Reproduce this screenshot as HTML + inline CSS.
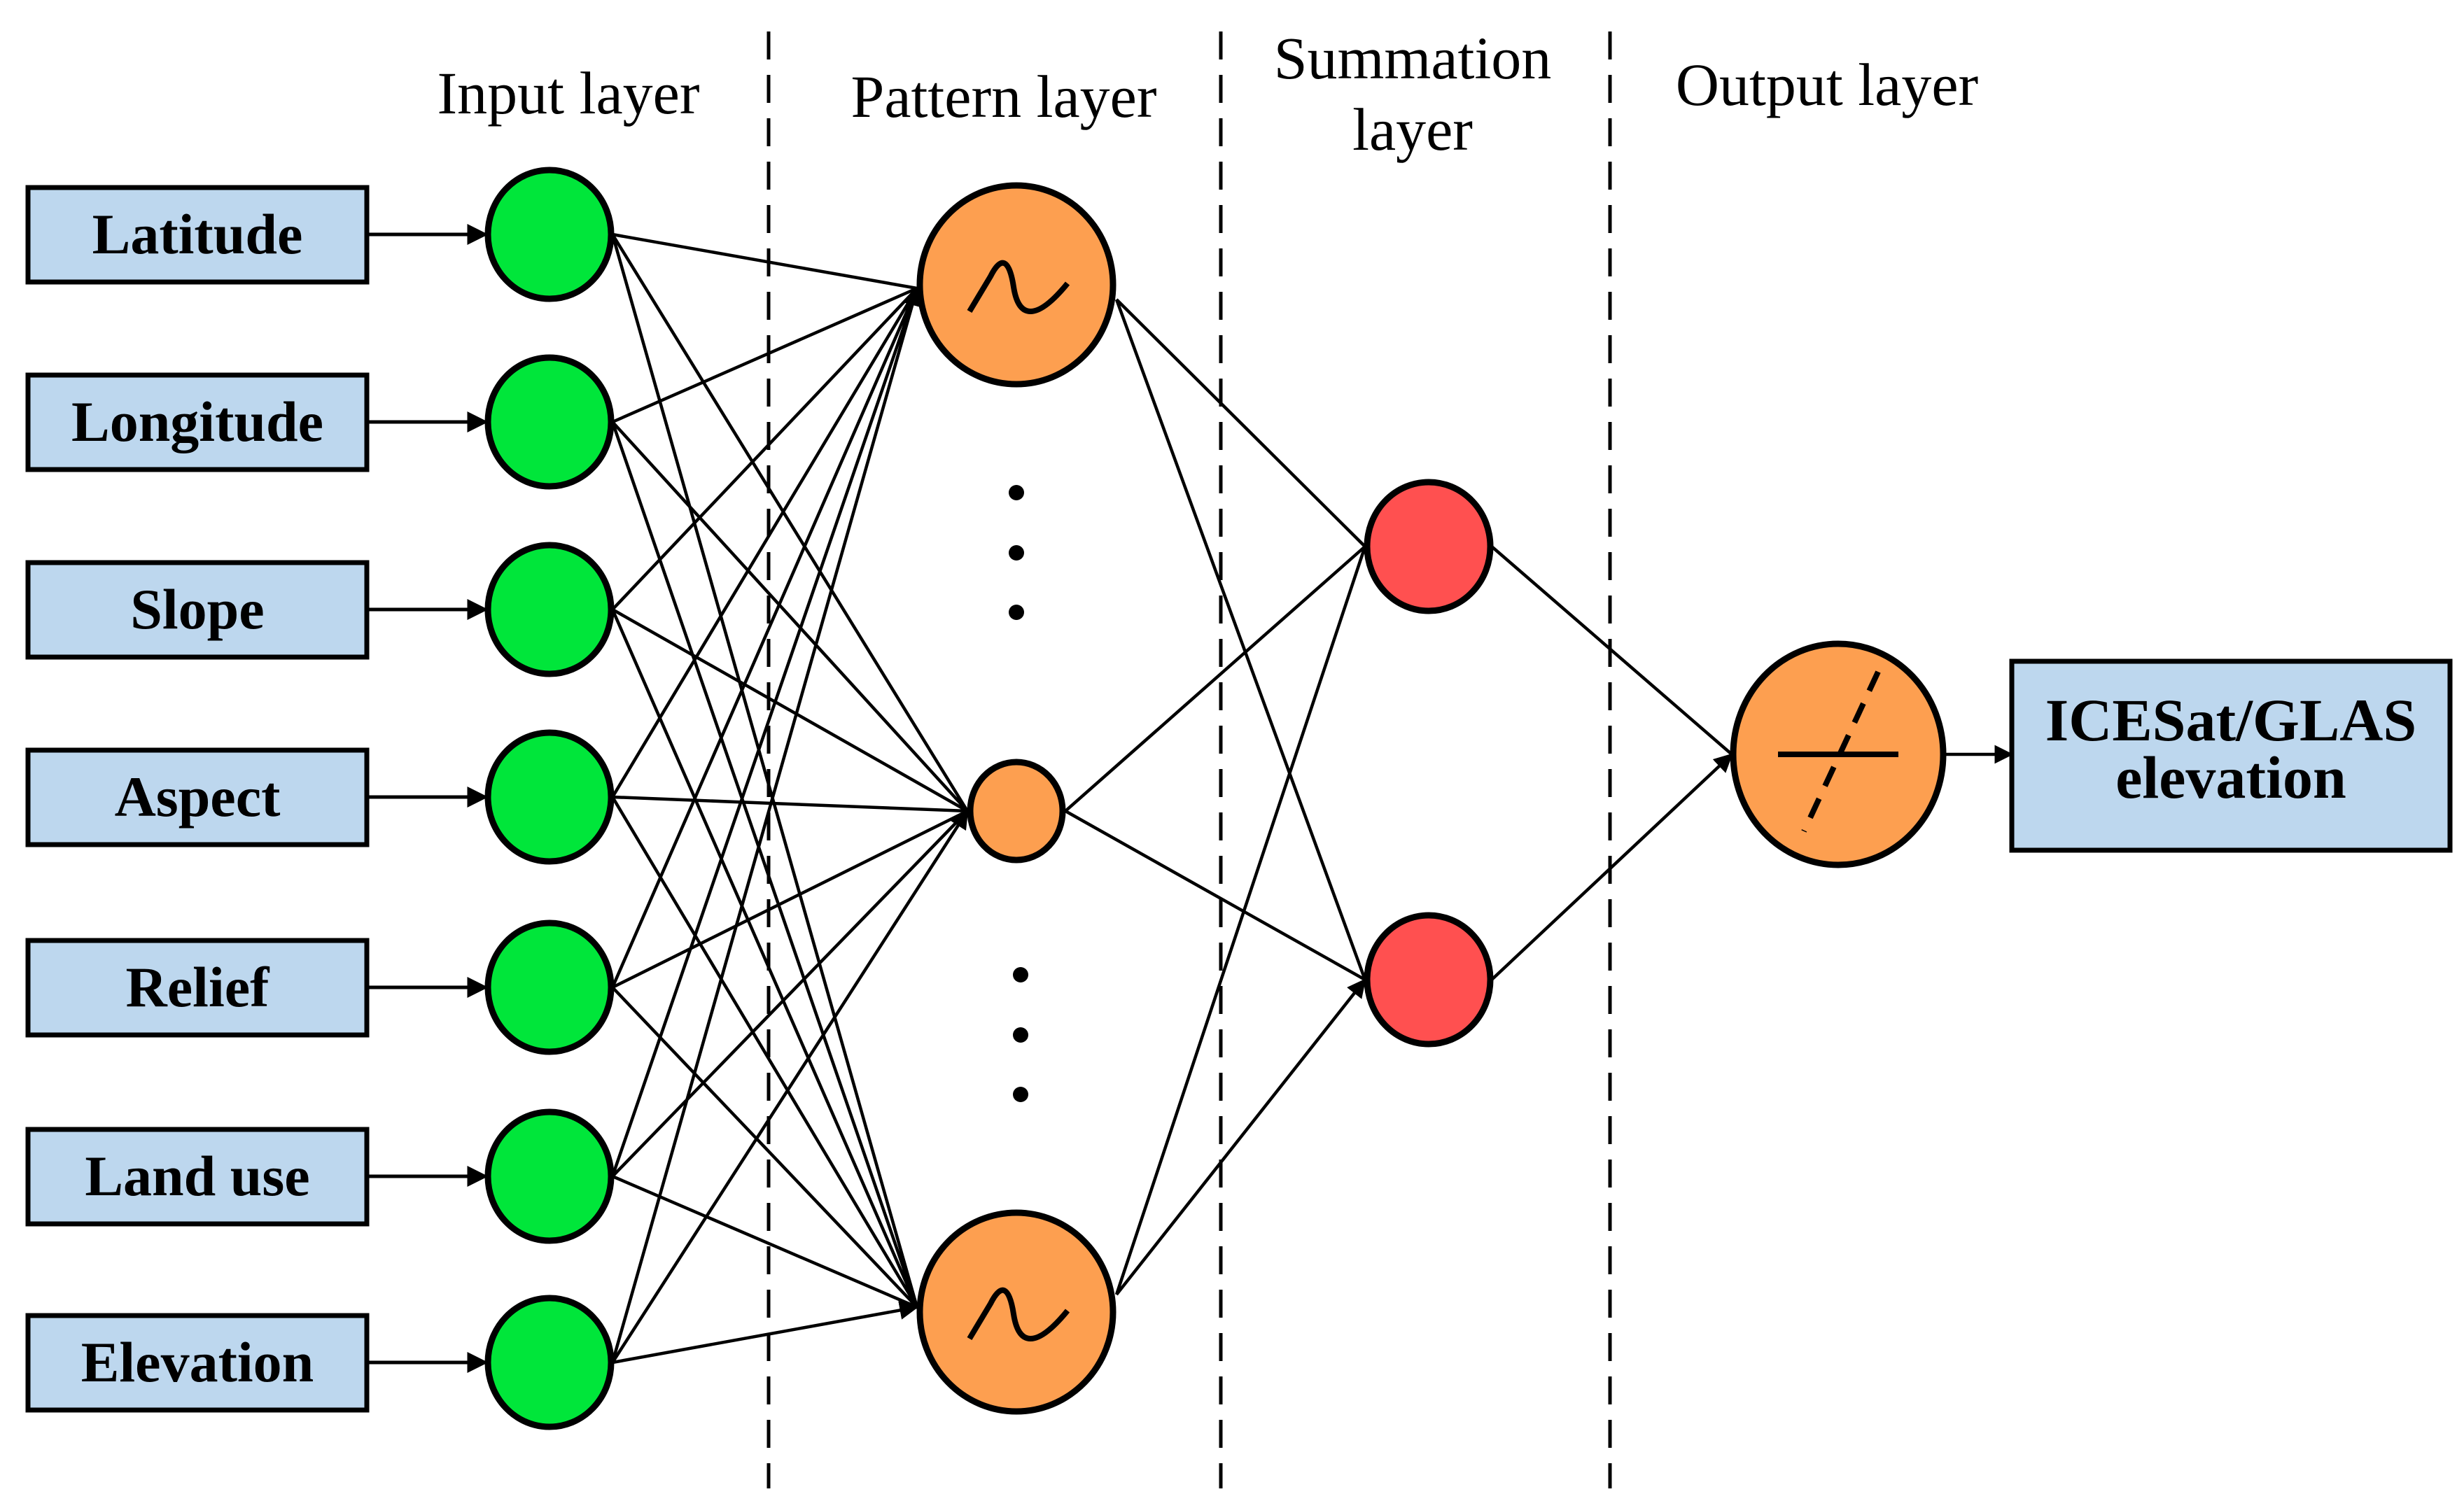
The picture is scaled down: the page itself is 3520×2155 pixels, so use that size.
<!DOCTYPE html>
<html><head><meta charset="utf-8"><style>html,body{margin:0;padding:0;background:#fff}svg{display:block}</style></head>
<body>
<svg width="3520" height="2155" viewBox="0 0 3520 2155" xmlns="http://www.w3.org/2000/svg">
<defs>
<marker id="a" markerWidth="6" markerHeight="6" refX="5.5" refY="3" orient="auto" markerUnits="strokeWidth"><path d="M0,0 L6,3 L0,6 z" fill="#000"/></marker>
</defs>
<g stroke="#000" stroke-width="5" stroke-dasharray="40,22">
<line x1="1098" y1="45" x2="1098" y2="2127"/>
<line x1="1744" y1="45" x2="1744" y2="2127"/>
<line x1="2300" y1="45" x2="2300" y2="2127"/>
</g>
<g font-family="Liberation Serif, serif" font-size="86" text-anchor="middle" fill="#000">
<text x="812" y="162">Input layer</text>
<text x="1434" y="167">Pattern layer</text>
<text x="2018" y="112">Summation</text>
<text x="2018" y="214">layer</text>
<text x="2610" y="150">Output layer</text>
</g>
<g stroke="#000" stroke-width="5" fill="none" marker-end="url(#a)">
<line x1="524" y1="335" x2="695" y2="335"/>
<line x1="524" y1="603" x2="695" y2="603"/>
<line x1="524" y1="871" x2="695" y2="871"/>
<line x1="524" y1="1139" x2="695" y2="1139"/>
<line x1="524" y1="1411" x2="695" y2="1411"/>
<line x1="524" y1="1681" x2="695" y2="1681"/>
<line x1="524" y1="1947" x2="695" y2="1947"/>
</g>
<g stroke="#000" stroke-width="4.5" fill="none" marker-end="url(#a)">
<path d="M875,335L1310,412M875,603L1310,412M875,871L1310,412M875,1139L1310,412M875,1411L1310,412M875,1681L1310,412M875,1947L1310,412"/>
<path d="M875,335L1382,1159M875,603L1382,1159M875,871L1382,1159M875,1139L1382,1159M875,1411L1382,1159M875,1681L1382,1159M875,1947L1382,1159"/>
<path d="M875,335L1310,1868M875,603L1310,1868M875,871L1310,1868M875,1139L1310,1868M875,1411L1310,1868M875,1681L1310,1868M875,1947L1310,1868"/>
<path d="M1595,428L1950,781M1595,428L1950,1400M1522,1159L1950,781M1522,1159L1950,1400M1595,1850L1950,781M1595,1850L1950,1400"/>
<path d="M2131,781L2474,1078M2131,1400L2474,1078"/>
<line x1="2779" y1="1078" x2="2874" y2="1078"/>
</g>
<g stroke="#000" stroke-width="7">
<rect x="40" y="268" width="484" height="135" fill="#bdd7ee"/>
<rect x="40" y="536" width="484" height="135" fill="#bdd7ee"/>
<rect x="40" y="804" width="484" height="135" fill="#bdd7ee"/>
<rect x="40" y="1072" width="484" height="135" fill="#bdd7ee"/>
<rect x="40" y="1344" width="484" height="135" fill="#bdd7ee"/>
<rect x="40" y="1614" width="484" height="135" fill="#bdd7ee"/>
<rect x="40" y="1880" width="484" height="135" fill="#bdd7ee"/>
<rect x="2874" y="945" width="626" height="270" fill="#bdd7ee"/>
</g>
<g font-family="Liberation Serif, serif" font-weight="bold" font-size="82" text-anchor="middle" fill="#000">
<text x="282" y="362">Latitude</text>
<text x="282" y="630">Longitude</text>
<text x="282" y="898">Slope</text>
<text x="282" y="1166">Aspect</text>
<text x="282" y="1438">Relief</text>
<text x="282" y="1708">Land use</text>
<text x="282" y="1974">Elevation</text>
<text x="3187" y="1058" font-size="86">ICESat/GLAS</text>
<text x="3187" y="1140" font-size="86">elevation</text>
</g>
<g stroke="#000" stroke-width="9" fill="#00e63a">
<ellipse cx="785" cy="335" rx="88" ry="92"/>
<ellipse cx="785" cy="603" rx="88" ry="92"/>
<ellipse cx="785" cy="871" rx="88" ry="92"/>
<ellipse cx="785" cy="1139" rx="88" ry="92"/>
<ellipse cx="785" cy="1411" rx="88" ry="92"/>
<ellipse cx="785" cy="1681" rx="88" ry="92"/>
<ellipse cx="785" cy="1947" rx="88" ry="92"/>
</g>
<g stroke="#000" stroke-width="9" fill="#fd9f50">
<ellipse cx="1452" cy="407" rx="138" ry="142"/>
<ellipse cx="1452" cy="1159" rx="66" ry="70"/>
<ellipse cx="1452" cy="1875" rx="138" ry="142"/>
<ellipse cx="2626" cy="1078" rx="150" ry="158"/>
</g>
<g stroke="#000" stroke-width="9" fill="#ff5050">
<ellipse cx="2041" cy="781" rx="88" ry="92"/>
<ellipse cx="2041" cy="1400" rx="88" ry="92"/>
</g>
<g stroke="#000" stroke-width="8" fill="none">
<path d="M1385,445 L1415,395 C1430,365 1442,370 1448,410 C1455,455 1480,460 1525,405"/>
<path d="M1385,1913 L1415,1863 C1430,1833 1442,1838 1448,1878 C1455,1923 1480,1928 1525,1873"/>
<line x1="2540" y1="1078" x2="2712" y2="1078"/>
<line x1="2683" y1="960" x2="2577" y2="1188" stroke-dasharray="30,20"/>
</g>
<g fill="#000">
<circle cx="1452" cy="704" r="11"/><circle cx="1452" cy="790" r="11"/><circle cx="1452" cy="875" r="11"/>
<circle cx="1458" cy="1393" r="11"/><circle cx="1458" cy="1479" r="11"/><circle cx="1458" cy="1564" r="11"/>
</g>
</svg>
</body></html>
